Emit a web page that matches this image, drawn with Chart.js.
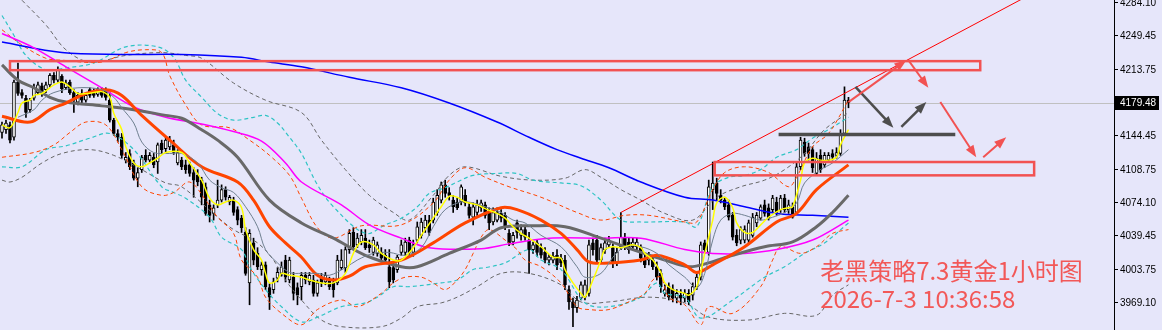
<!DOCTYPE html>
<html>
<head>
<meta charset="utf-8">
<script src="https://cdn.jsdelivr.net/npm/chart.js@4.4.1/dist/chart.umd.min.js"></script>
<style>
  html, body { margin: 0; padding: 0; background: #e6e6fa; }
  #wrap { width: 1162px; height: 330px; }
</style>
</head>
<body>
<div id="wrap"><canvas id="chart" width="1162" height="330"></canvas></div>
<script>
// XAUUSD H1 candles
const open = [
  4148,4151,4156,4143,4201,4190,4184,4172,4184,4190, 4197,4193,4198,4208,4203,4207,4195,4201,4190,4180,
  4189,4182,4193,4191,4188,4193,4193,4182,4161,4147, 4143,4119,4126,4116,4100,4109,4124,4119,4122,4117,
  4137,4131,4133,4135,4116,4119,4114,4114,4106,4103, 4098,4091,4072,4063,4072,4077,4088,4075,4077,4067,
  4058,4043,3990,4032,4021,4004,4009,3985,3983,3995, 4000,4014,3993,3996,3985,3986,3998,3991,3993,3979,
  3996,3991,3993,3990,3990,4006,4006,4025,4043,4030, 4033,4037,4030,4022,4021,4022,4019,4007,4006,4004,
  4022,4022,4035,4022,4035,4040,4048,4056,4056,4064, 4077,4093,4085,4077,4075,4075,4082,4070,4059,4064,
  4069,4072,4064,4054,4056,4063,4061,4042,4033,4053, 4040,4046,4035,4025,4032,4027,4022,4014,4014,4019,
  4016,4014,3983,3970,3964,3974,3975,3979,4032,4035, 4014,4025,4030,4027,4011,4028,4038,4033,4028,4028,
  4027,4016,4014,4014,4007,4000,3979,3986,3983,3974, 3977,3974,3979,3977,3986,3996,4032,4022,4088,4095,
  4082,4077,4072,4061,4040,4035,4035,4035,4040,4053, 4058,4072,4069,4067,4075,4067,4079,4067,4070,4064,
  4112,4138,4133,4130,4105,4124,4114,4119,4126,4124, 4126,4147,4182
];
const high = [
  4159,4161,4159,4203,4221,4193,4187,4184,4199,4201, 4200,4201,4210,4211,4217,4209,4203,4203,4193,4190,
  4193,4190,4195,4194,4195,4195,4195,4190,4163,4151, 4147,4127,4130,4119,4111,4124,4130,4127,4126,4137,
  4140,4143,4144,4140,4130,4122,4119,4117,4111,4109, 4101,4095,4077,4072,4098,4093,4091,4082,4080,4070,
  4061,4048,4046,4037,4027,4012,4012,3989,3995,4006, 4012,4019,4017,4001,3990,4001,4001,4001,3998,3993,
  4000,4001,3996,3995,4019,4025,4028,4046,4048,4042, 4046,4046,4035,4038,4033,4027,4025,4025,4012,4019,
  4035,4037,4038,4035,4054,4058,4061,4061,4079,4088, 4096,4098,4090,4082,4079,4093,4088,4074,4074,4077,
  4077,4075,4069,4069,4069,4067,4064,4046,4043,4056, 4051,4050,4043,4033,4035,4031,4027,4020,4022,4025,
  4020,4019,3987,3974,3976,3991,3993,4035,4037,4040, 4031,4037,4039,4031,4027,4064,4042,4037,4037,4037,
  4030,4021,4022,4018,4012,4004,3988,3990,3988,3983, 3983,3983,3983,3990,4000,4033,4035,4098,4117,4100,
  4088,4080,4077,4064,4046,4049,4050,4056,4063,4064, 4072,4077,4073,4082,4080,4082,4083,4077,4074,4116,
  4143,4142,4137,4133,4127,4130,4127,4127,4130,4132, 4151,4196,4185
];
const low = [
  4142,4147,4137,4140,4187,4184,4164,4169,4182,4188, 4186,4190,4196,4200,4201,4190,4193,4188,4169,4177,
  4179,4180,4185,4185,4186,4185,4182,4159,4145,4138, 4121,4116,4109,4098,4091,4106,4117,4117,4111,4105,
  4126,4127,4130,4125,4114,4109,4105,4102,4080,4092, 4072,4061,4054,4056,4069,4075,4077,4072,4061,4051,
  4043,3998,3967,4009,4004,3998,3983,3962,3979,3991, 3997,3991,3990,3972,3967,3972,3989,3988,3976,3976,
  3986,3988,3983,3975,3988,4004,4001,4021,4025,4027, 4030,4025,4022,4019,4018,4012,4011,3985,3990,4001,
  4019,4019,4019,4018,4032,4037,4043,4040,4053,4061, 4074,4080,4077,4064,4067,4072,4071,4058,4051,4061,
  4065,4058,4046,4051,4054,4054,4046,4029,4030,4037, 4035,4035,4000,4021,4018,4016,4011,4009,4011,4004,
  4007,3983,3962,3944,3959,3972,3972,3976,4019,4011, 4012,4021,4027,4006,4008,4025,4025,4021,4025,4025,
  4012,4006,4009,4004,3993,3980,3976,3972,3970,3969, 3967,3970,3967,3972,3983,3993,4021,4019,4067,4077,
  4074,4067,4056,4035,4029,4031,4032,4032,4038,4049, 4056,4060,4056,4064,4061,4064,4064,4063,4058,4062,
  4109,4123,4119,4106,4103,4106,4111,4117,4119,4121, 4124,4145,4174
];
const close = [
  4156,4158,4140,4201,4189,4187,4169,4182,4195,4198, 4189,4198,4208,4203,4214,4194,4200,4190,4182,4187,
  4182,4187,4187,4187,4193,4187,4185,4161,4147,4143, 4124,4122,4112,4100,4106,4122,4119,4124,4114,4135,
  4130,4140,4140,4127,4127,4112,4109,4105,4098,4096, 4080,4063,4061,4069,4077,4088,4080,4080,4064,4056,
  4048,4000,4042,4014,4007,4009,3986,3975,3991,4001, 4007,3996,4014,3979,3977,3998,3993,3998,3979,3990,
  3990,3998,3986,3983,4014,4014,4025,4042,4028,4037, 4040,4027,4027,4035,4030,4016,4014,3991,3993,4017,
  4030,4033,4022,4030,4049,4054,4056,4043,4075,4082, 4093,4084,4082,4070,4069,4091,4074,4061,4070,4072,
  4074,4061,4053,4064,4064,4058,4049,4032,4040,4043, 4046,4038,4025,4030,4022,4019,4014,4017,4018,4009,
  4011,3988,3970,3964,3972,3988,3988,4030,4025,4014, 4027,4032,4035,4011,4022,4038,4028,4025,4033,4033,
  4016,4009,4019,4007,3996,3986,3983,3975,3974,3979, 3974,3979,3970,3986,3996,4030,4025,4091,4095,4084,
  4077,4070,4059,4038,4032,4046,4046,4053,4059,4061, 4070,4063,4058,4079,4064,4079,4067,4072,4059,4112,
  4140,4126,4126,4111,4121,4109,4124,4124,4122,4127, 4145,4182,4179.48
];

// indicator lines as [bar index, price]
const maFast = [[0,4156],[2,4153],[4,4169],[5,4179],[7,4182],[8,4187],[10,4189],[13,4198],[15,4201],[17,4196],
  [19,4189],[21,4189],[23,4190],[25,4191],[27,4185],[28,4168],[30,4151],[31,4133],[33,4116],[35,4112],
  [37,4116],[39,4121],[41,4127],[45,4127],[47,4116],[50,4098],[52,4079],[54,4072],[56,4075],[58,4077],
  [60,4069],[61,4046],[63,4025],[65,4014],[66,4000],[67,3990],[69,3993],[70,4000],[72,3998],[75,3996],
  [77,3993],[80,3990],[83,3990],[86,4000],[88,4021],[90,4033],[93,4030],[95,4021],[98,4014],[100,4014],
  [103,4027],[105,4040],[108,4058],[110,4070],[112,4081],[114,4080],[116,4075],[119,4072],[121,4068],[124,4063],
  [126,4058],[128,4049],[130,4042],[132,4037],[135,4028],[138,4017],[140,4016],[141,4004],[143,3990],[145,3979],
  [146,3975],[148,3993],[150,4014],[151,4025],[153,4028],[155,4027],[156,4028],[158,4030],[160,4027],[161,4021],
  [163,4014],[165,4001],[166,3990],[168,3983],[171,3979],[172,3977],[174,3986],[176,4021],[178,4056],[179,4074],
  [181,4080],[183,4069],[184,4053],[186,4043],[188,4043],[190,4051],[192,4059],[195,4067],[197,4069],[198,4070],
  [200,4098],[201,4116],[203,4121],[205,4119],[207,4119],[209,4122],[210,4135],[212,4151]];
const maSlow = [[4,4164],[8,4172],[10,4182],[13,4190],[19,4195],[25,4193],[28,4185],[30,4174],[33,4158],[35,4138],
  [38,4127],[42,4126],[45,4126],[49,4116],[52,4098],[55,4090],[58,4085],[61,4070],[64,4049],[66,4025],
  [69,4011],[72,4001],[75,4000],[79,4000],[82,3998],[86,4006],[89,4014],[93,4021],[97,4022],[101,4019],
  [105,4027],[108,4049],[111,4067],[115,4075],[118,4074],[121,4070],[125,4064],[128,4056],[131,4053],[135,4040],
  [140,4028],[144,4007],[146,3996],[150,4000],[153,4017],[156,4028],[160,4028],[164,4021],[167,4009],[171,3996],
  [174,3985],[176,4000],[178,4035],[180,4056],[183,4063],[186,4061],[190,4056],[193,4059],[196,4064],[199,4074],
  [201,4095],[205,4109],[208,4116],[212,4130]];
const ma30 = [[0,4165],[7,4159],[12,4172],[16,4179],[21,4189],[26,4193],[30,4187],[35,4166],[42,4140],[50,4112],
  [59,4096],[63,4077],[67,4049],[71,4032],[75,4017],[79,3998],[83,3993],[87,3997],[91,4007],[100,4014],
  [108,4032],[116,4053],[125,4069],[129,4067],[135,4056],[140,4042],[144,4025],[147,4012],[152,4011],[160,4014],
  [164,4019],[171,4009],[174,4001],[178,4009],[186,4028],[194,4054],[199,4063],[204,4088],[212,4114]];
const ma60 = [[0,4219],[4,4203],[8,4195],[12,4185],[16,4180],[25,4176],[33,4172],[41,4166],[45,4163],[50,4151],
  [54,4140],[59,4122],[67,4077],[75,4053],[83,4037],[91,4019],[100,4007],[104,4007],[112,4021],[120,4035],
  [125,4048],[133,4050],[141,4049],[150,4037],[158,4025],[166,4014],[172,4007],[177,4011],[183,4019],[191,4028],
  [198,4033],[204,4049],[208,4064],[212,4082]];
const ma120 = [[0,4252],[8,4237],[16,4217],[25,4195],[33,4175],[41,4164],[50,4157],[58,4149],[65,4139],[71,4116],
  [75,4096],[85,4072],[92,4051],[100,4037],[107,4027],[120,4026],[127,4031],[137,4037],[150,4037],[160,4037],
  [171,4025],[178,4021],[186,4021],[194,4025],[203,4035],[212,4056]];
const ma240 = [[0,4243],[15,4232],[30,4230],[45,4230],[60,4227],[67,4222],[75,4217],[87,4206],[100,4195],[112,4179],
  [124,4159],[132,4143],[139,4130],[145,4121],[152,4111],[160,4096],[171,4080],[178,4077],[186,4070],[194,4063],
  [203,4061],[212,4059]];

// dashed envelopes
const bandRedUp = [[0,4256],[5,4240],[11,4226],[15,4224],[25,4222],[31,4232],[36,4235],[40,4232],[42,4208],[46,4177],
  [50,4156],[57,4153],[62,4140],[67,4124],[72,4103],[75,4079],[79,4048],[83,4037],[90,4050],[100,4051],
  [108,4074],[112,4098],[116,4111],[121,4101],[127,4091],[135,4080],[144,4064],[150,4056],[156,4061],[162,4061],
  [171,4054],[174,4054],[178,4088],[181,4106],[186,4112],[192,4106],[197,4091],[199,4101],[203,4133],[207,4147],[212,4182]];
const bandRedDn = [[0,4122],[8,4127],[13,4135],[17,4148],[21,4159],[26,4156],[30,4130],[35,4091],[40,4082],[43,4085],
  [47,4096],[51,4077],[54,4059],[58,4042],[60,4014],[64,3996],[66,3975],[70,3958],[75,3946],[79,3962],
  [85,3972],[89,3965],[95,3979],[98,3990],[101,3996],[105,3996],[108,3990],[111,3983],[114,3993],[116,4004],
  [118,4021],[120,4038],[122,4046],[126,4035],[129,4025],[131,4014],[135,4007],[140,3990],[144,3965],[147,3962],
  [152,3962],[158,3972],[161,3979],[163,3993],[165,3996],[167,3975],[171,3967],[175,3946],[177,3965],[183,3958],
  [190,3986],[193,4014],[195,4028],[200,4021],[204,4028],[208,4042],[212,4046]];
const bandCyanUp = [[0,4271],[3,4250],[6,4229],[11,4214],[16,4216],[23,4221],[31,4238],[39,4238],[43,4227],[46,4203],
  [50,4185],[54,4168],[58,4161],[63,4164],[66,4166],[69,4158],[72,4143],[75,4126],[79,4093],[83,4070],
  [91,4042],[96,4051],[100,4058],[104,4070],[107,4084],[111,4090],[114,4096],[118,4103],[124,4105],[129,4105],
  [133,4098],[140,4095],[145,4092],[150,4077],[155,4056],[160,4054],[171,4054],[174,4049],[178,4091],[182,4101],
  [186,4103],[190,4109],[194,4122],[199,4130],[203,4142],[207,4151],[212,4164]];
const bandCyanDn = [[0,4112],[5,4112],[11,4130],[16,4134],[22,4142],[27,4147],[33,4130],[40,4091],[43,4085],[46,4079],
  [52,4059],[55,4038],[60,4025],[62,4007],[66,3983],[70,3965],[75,3949],[79,3954],[85,3965],[91,3969],
  [94,3975],[98,3986],[102,3986],[110,3990],[114,3993],[118,4004],[121,4006],[126,4011],[132,4025],[135,4014],
  [140,4004],[146,3969],[152,3965],[160,3975],[164,3990],[166,3979],[171,3975],[175,3953],[183,3972],[191,3996],
  [196,4007],[201,4021],[206,4032],[212,4053]];
const bandGrayUp = [[5,4287],[11,4261],[16,4235],[22,4222],[31,4229],[40,4232],[46,4229],[50,4226],[58,4200],[66,4182],
  [75,4169],[80,4140],[86,4109],[92,4082],[98,4064],[102,4056],[108,4082],[112,4103],[116,4112],[125,4102],
  [133,4098],[141,4100],[146,4109],[150,4101],[155,4088],[160,4077],[166,4063],[173,4056],[179,4080],[185,4091],
  [191,4098],[196,4109],[201,4126],[206,4151],[212,4169]];
const bandGrayDn = [[0,4098],[2,4096],[5,4101],[10,4116],[15,4126],[22,4130],[28,4124],[35,4109],[41,4095],[45,4091],
  [54,4059],[58,4046],[64,4032],[68,4014],[71,3993],[75,3972],[80,3951],[85,3944],[95,3944],[100,3953],
  [104,3965],[110,3969],[114,3975],[119,3986],[125,4000],[132,4000],[140,3988],[145,3970],[152,3970],[162,3975],
  [171,3969],[177,3954],[187,3951],[196,3958],[204,3956],[208,3977],[212,3988]];

const yTicks = [4284.10, 4249.45, 4213.75, 4144.45, 4108.75, 4074.10, 4039.45, 4003.75, 3969.10];
const lastPrice = 4179.48;

// drawn markup, in [bar index, price]
const trendLine = [[155, 4064], [258, 4294]];
const zoneTop = [[2, 4223], [245, 4213.5]];
const zoneLow = [[178.5, 4117], [258.5, 4103]];
const pivotLine = [[194.5, 4146], [238.75, 4146]];
const grayArrows = [[[213.75, 4196], [223.25, 4153]], [[225.25, 4154], [231.5, 4180]]];
const redArrows = [[[212, 4180], [226.5, 4224]], [[227, 4224], [232, 4195]], [[235, 4180], [244, 4122]], [[245.75, 4122], [251.5, 4143]]];
const noteLines = ['老黑策略7.3黄金1小时图', '2026-7-3 10:36:58'];
const notePos = [[204.9, 3993], [204.9, 3963.5]];

const labels = Array.from({ length: 279 }, (_, i) => i);

function lineSet(pts, color, width, dash, order) {
    return {
        type: 'line',
        data: pts.map(p => ({ x: p[0], y: p[1] })),
        borderColor: color,
        borderWidth: width,
        borderDash: dash,
        pointRadius: 0,
        tension: 0.35,
        fill: false,
        order: order
    };
}

function arrow(ctx, x1, y1, x2, y2, color, w) {
    const a = Math.atan2(y2 - y1, x2 - x1);
    const hl = 12, hw = 4.5;
    ctx.strokeStyle = color;
    ctx.fillStyle = color;
    ctx.lineWidth = w;
    ctx.beginPath();
    ctx.moveTo(x1, y1);
    ctx.lineTo(x2 - Math.cos(a) * hl * 0.8, y2 - Math.sin(a) * hl * 0.8);
    ctx.stroke();
    ctx.beginPath();
    ctx.moveTo(x2, y2);
    ctx.lineTo(x2 - Math.cos(a) * hl - Math.sin(a) * hw, y2 - Math.sin(a) * hl + Math.cos(a) * hw);
    ctx.lineTo(x2 - Math.cos(a) * hl + Math.sin(a) * hw, y2 - Math.sin(a) * hl - Math.cos(a) * hw);
    ctx.closePath();
    ctx.fill();
}

const markup = {
    id: 'markup',
    beforeDraw(chart) {
        const ctx = chart.ctx;
        ctx.save();
        ctx.fillStyle = '#e6e6fa';
        ctx.fillRect(0, 0, chart.width, chart.height);
        ctx.restore();
    },
    beforeDatasetsDraw(chart) {
        const { ctx, chartArea, scales: { y } } = chart;
        const py = Math.round(y.getPixelForValue(lastPrice)) + 0.5;
        ctx.save();
        ctx.strokeStyle = '#c0c0c0';
        ctx.lineWidth = 1;
        ctx.beginPath();
        ctx.moveTo(chartArea.left, py);
        ctx.lineTo(chartArea.right, py);
        ctx.stroke();
        ctx.restore();
    },
    afterDatasetsDraw(chart) {
        const { ctx, chartArea, scales: { x, y } } = chart;
        const px = p => [x.getPixelForValue(p[0]), y.getPixelForValue(p[1])];
        ctx.save();
        ctx.beginPath();
        ctx.rect(chartArea.left, chartArea.top, chartArea.right - chartArea.left, chartArea.bottom - chartArea.top);
        ctx.clip();

        // trend line
        let a = px(trendLine[0]), b = px(trendLine[1]);
        ctx.strokeStyle = '#ff0000';
        ctx.lineWidth = 1;
        ctx.beginPath();
        ctx.moveTo(a[0], a[1]);
        ctx.lineTo(b[0], b[1]);
        ctx.stroke();

        // zones
        ctx.strokeStyle = '#f25252';
        ctx.lineWidth = 2.5;
        [zoneTop, zoneLow].forEach(z => {
            const p1 = px(z[0]), p2 = px(z[1]);
            ctx.strokeRect(p1[0], p1[1], p2[0] - p1[0], p2[1] - p1[1]);
        });

        // pivot
        a = px(pivotLine[0]); b = px(pivotLine[1]);
        ctx.strokeStyle = '#4d4d4d';
        ctx.lineWidth = 3.5;
        ctx.beginPath();
        ctx.moveTo(a[0], a[1]);
        ctx.lineTo(b[0], b[1]);
        ctx.stroke();

        grayArrows.forEach(s => {
            const p1 = px(s[0]), p2 = px(s[1]);
            arrow(ctx, p1[0], p1[1], p2[0], p2[1], '#4d4d4d', 2.5);
        });
        redArrows.forEach(s => {
            const p1 = px(s[0]), p2 = px(s[1]);
            arrow(ctx, p1[0], p1[1], p2[0], p2[1], '#f25252', 2);
        });

        // note
        ctx.fillStyle = '#f25858';
        ctx.textBaseline = 'alphabetic';
        ctx.font = '24px "Noto Sans CJK SC"';
        noteLines.forEach((t, i) => {
            const p = px(notePos[i]);
            ctx.fillText(t, p[0], p[1]);
        });
        ctx.restore();
    },
    afterDraw(chart) {
        const { ctx, scales: { y } } = chart;
        const py = Math.round(y.getPixelForValue(lastPrice));
        ctx.save();
        ctx.fillStyle = '#000000';
        ctx.fillRect(y.left + 1, py - 7, 44, 14);
        ctx.fillStyle = '#ffffff';
        ctx.font = '10px "Liberation Sans"';
        ctx.textBaseline = 'middle';
        ctx.fillText(lastPrice.toFixed(2), y.left + 6, py + 0.5);
        ctx.restore();
    }
};

const bodyColors = close.map((c, i) => c >= open[i] ? '#ffffff' : '#000000');

const ctx = document.getElementById('chart').getContext('2d');
new Chart(ctx, {
    type: 'bar',
    data: {
        labels: labels,
        datasets: [
            lineSet(maFast, '#ffff00', 1.5, [], 1),
            lineSet(maSlow, '#6f8090', 1, [], 2),
            lineSet(ma30, '#ff4500', 3, [], 3),
            lineSet(ma60, '#696969', 3, [], 4),
            lineSet(ma120, '#ff00ff', 1.5, [], 5),
            lineSet(ma240, '#0000ff', 1.5, [], 6),
            lineSet(bandRedUp, '#ff4500', 1, [4, 3], 7),
            lineSet(bandRedDn, '#ff4500', 1, [4, 3], 7),
            lineSet(bandCyanUp, '#2ec4c4', 1.2, [4, 3], 8),
            lineSet(bandCyanDn, '#2ec4c4', 1.2, [4, 3], 8),
            lineSet(bandGrayUp, '#666666', 1, [4, 3], 9),
            lineSet(bandGrayDn, '#666666', 1, [4, 3], 9),
            {
                type: 'bar',
                data: open.map((o, i) => [o, close[i]]),
                backgroundColor: bodyColors,
                borderColor: '#000000',
                borderWidth: 1,
                borderSkipped: false,
                barThickness: 3,
                grouped: false,
                order: 20
            },
            {
                type: 'bar',
                data: low.map((l, i) => [l, high[i]]),
                backgroundColor: '#000000',
                barThickness: 1,
                grouped: false,
                order: 21
            }
        ]
    },
    options: {
        responsive: false,
        animation: false,
        events: [],
        layout: { padding: 0 },
        plugins: {
            legend: { display: false },
            tooltip: { enabled: false }
        },
        scales: {
            x: {
                type: 'category',
                display: false,
                offset: true,
                grid: { display: false }
            },
            y: {
                position: 'right',
                min: 3940.5,
                max: 4287.25,
                afterBuildTicks: s => { s.ticks = yTicks.map(v => ({ value: v })); },
                afterFit: s => { s.width = 48; s.paddingTop = 0; s.paddingBottom = 0; },
                ticks: {
                    autoSkip: false,
                    padding: 2,
                    color: '#000000',
                    font: { family: 'Liberation Sans', size: 10 },
                    callback: v => Number(v).toFixed(2)
                },
                grid: { drawOnChartArea: false, drawTicks: true, tickLength: 4, color: '#000000' },
                border: { display: true, color: '#000000' }
            }
        }
    },
    plugins: [markup]
});
</script>
</body>
</html>
